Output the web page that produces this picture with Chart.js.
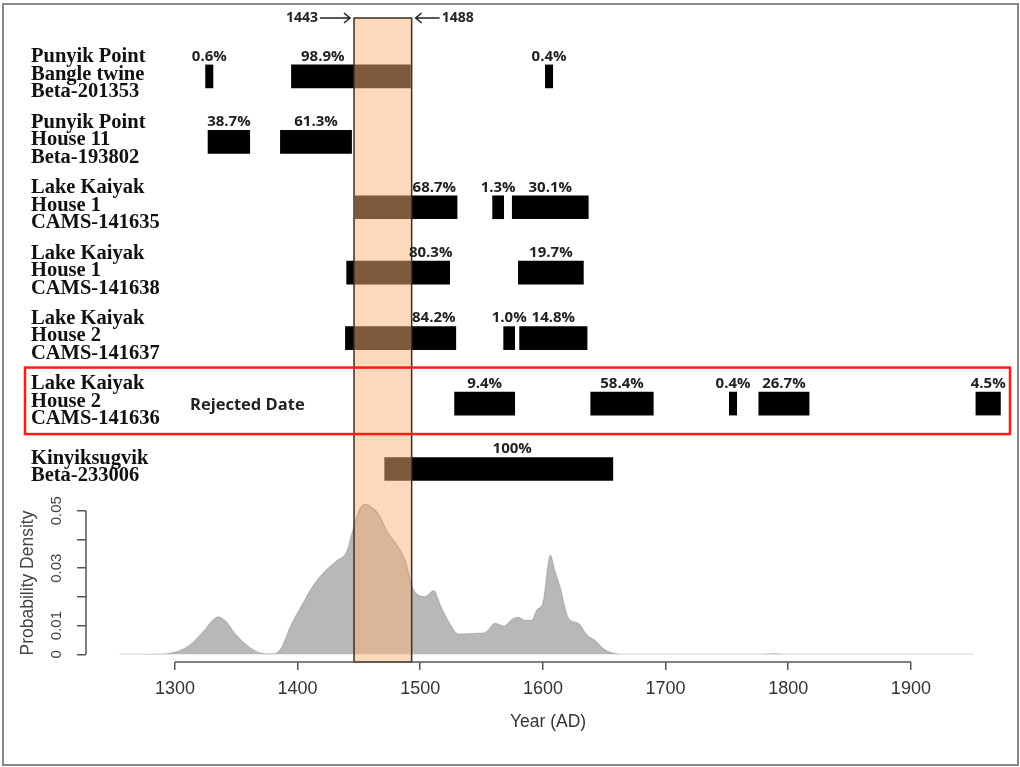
<!DOCTYPE html>
<html>
<head>
<meta charset="utf-8">
<script src="https://cdn.jsdelivr.net/npm/chart.js@4.4.1/dist/chart.umd.min.js"></script>
<style>
  html, body { margin: 0; padding: 0; background: #fff; }
</style>
</head>
<body>
<canvas id="chart" width="1020" height="767"></canvas>
<script>
// one row per dated sample
const sampleLabels = [
  ['Punyik Point', 'Bangle twine', 'Beta-201353'],
  ['Punyik Point', 'House 11', 'Beta-193802'],
  ['Lake Kaiyak', 'House 1', 'CAMS-141635'],
  ['Lake Kaiyak', 'House 1', 'CAMS-141638'],
  ['Lake Kaiyak', 'House 2', 'CAMS-141637'],
  ['Lake Kaiyak', 'House 2', 'CAMS-141636'],
  ['Kinyiksugvik', 'Beta-233006']
];
const rejectedRow = 5;
const rejectedText = 'Rejected Date';

// calibrated ranges (years AD) with their probability
const rangeRow  = [0, 0, 0, 1, 1, 2, 2, 2, 3, 3, 4, 4, 4, 5, 5, 5, 5, 5, 6];
const rangeFrom = [1325, 1395, 1602, 1327, 1386, 1447, 1559, 1575, 1440, 1580, 1439, 1568, 1581, 1528, 1639, 1752, 1776, 1953, 1471];
const rangeTo   = [1331, 1492, 1608, 1361, 1444, 1530, 1568, 1637, 1524, 1633, 1529, 1577, 1636, 1577, 1690, 1758, 1817, 1973, 1657];
const rangePct  = ['0.6%', '98.9%', '0.4%', '38.7%', '61.3%', '68.7%', '1.3%', '30.1%', '80.3%', '19.7%',
                   '84.2%', '1.0%', '14.8%', '9.4%', '58.4%', '0.4%', '26.7%', '4.5%', '100%'];

// summed probability density
const densityYear = [1255, 1288, 1301, 1312, 1323, 1331, 1335, 1341, 1350, 1361,
                     1372, 1379, 1386, 1394, 1402, 1413, 1422, 1432, 1440, 1445,
                     1451, 1455, 1459, 1466, 1473, 1481, 1488, 1493, 1498, 1504,
                     1511, 1517, 1524, 1531, 1546, 1554, 1561, 1568, 1576, 1580,
                     1585, 1591, 1595, 1600, 1606, 1610, 1614, 1621, 1629, 1636,
                     1642, 1651, 1659, 1668, 1775, 1788, 1800, 1951];
const densityValue = [0, 0.0001, 0.0009, 0.0032, 0.0079, 0.0119, 0.0131, 0.0117, 0.0067, 0.0024,
                      0.0003, 0.0002, 0.0017, 0.0096, 0.016, 0.0241, 0.0288, 0.0326, 0.0357, 0.0433,
                      0.0508, 0.0522, 0.0516, 0.0488, 0.0427, 0.038, 0.0323, 0.0241, 0.0207, 0.0201,
                      0.0222, 0.0166, 0.0108, 0.0071, 0.0073, 0.0079, 0.0108, 0.0099, 0.0125, 0.0129,
                      0.0119, 0.0119, 0.0154, 0.018, 0.0346, 0.0288, 0.0235, 0.0125, 0.0108, 0.0067,
                      0.005, 0.0015, 0.0003, 0, 0, 0.0003, 0, 0];

const yearTicks = [1300, 1400, 1500, 1600, 1700, 1800, 1900];
const densityTicks = [0, 0.01, 0.02, 0.03, 0.04, 0.05];
const densityTickLabels = ['0', '0.01', '', '0.03', '', '0.05'];

// highlighted span
const spanFrom = 1446;
const spanTo = 1493;
const spanLabels = ['1443', '1488'];

const sansBold = '"Open Sans", "Liberation Sans", sans-serif';

const overlay = {
  id: 'overlay',
  beforeDatasetDraw(chart, args) {
    if (args.meta.type !== 'line') return;
    const { ctx, chartArea, scales: { x } } = chart;
    const l = x.getPixelForValue(spanFrom), r = x.getPixelForValue(spanTo);
    ctx.save();
    ctx.fillStyle = 'rgba(250, 180, 120, 0.5)';
    ctx.fillRect(l, chartArea.top + 8, r - l, chartArea.bottom - chartArea.top - 8);
    ctx.restore();
  },
  afterDatasetsDraw(chart) {
    const { ctx, chartArea, scales: { x, yr, yd } } = chart;
    const l = x.getPixelForValue(spanFrom), r = x.getPixelForValue(spanTo);
    const top = chartArea.top + 8;
    ctx.save();

    // span outline
    ctx.strokeStyle = '#3b2f25';
    ctx.lineWidth = 1.5;
    ctx.strokeRect(l, top, r - l, chartArea.bottom - top);

    // R style axis lines, only across the tick range
    ctx.strokeStyle = '#555';
    ctx.lineWidth = 1.5;
    ctx.beginPath();
    ctx.moveTo(x.getPixelForValue(yearTicks[0]), chartArea.bottom);
    ctx.lineTo(x.getPixelForValue(yearTicks[yearTicks.length - 1]), chartArea.bottom);
    ctx.moveTo(chartArea.left, yd.getPixelForValue(densityTicks[0]));
    ctx.lineTo(chartArea.left, yd.getPixelForValue(densityTicks[densityTicks.length - 1]));
    ctx.stroke();

    // rotated density tick labels
    ctx.fillStyle = '#444';
    ctx.font = '15px "Liberation Sans", Arial, sans-serif';
    ctx.textAlign = 'center';
    ctx.textBaseline = 'middle';
    densityTicks.forEach((v, i) => {
      if (!densityTickLabels[i]) return;
      ctx.save();
      ctx.translate(chartArea.left - 29, yd.getPixelForValue(v));
      ctx.rotate(-Math.PI / 2);
      ctx.fillText(densityTickLabels[i], 0, 0);
      ctx.restore();
    });

    // sample names
    ctx.fillStyle = '#111';
    ctx.font = 'bold 20.5px "Liberation Serif", "Times New Roman", serif';
    ctx.textAlign = 'left';
    sampleLabels.forEach((lines, i) => {
      const mid = yr.getPixelForValue(i) - 2;
      lines.forEach((t, j) => {
        ctx.fillText(t, 31, mid + (j - (lines.length - 1) / 2) * 17.5);
      });
    });

    // probabilities above the bars
    ctx.fillStyle = '#222';
    ctx.font = 'bold 15px ' + sansBold;
    ctx.textAlign = 'center';
    rangePct.forEach((p, k) => {
      let a = rangeFrom[k], b = rangeTo[k];
      if (b > spanTo) a = Math.max(a, spanTo);
      else if (a < spanFrom) b = Math.min(b, spanFrom);
      const cx = (x.getPixelForValue(a) + x.getPixelForValue(b)) / 2;
      ctx.fillText(p, cx, yr.getPixelForValue(rangeRow[k]) - 20);
    });

    // rejected sample
    const ry = yr.getPixelForValue(rejectedRow);
    ctx.font = 'bold 16.5px ' + sansBold;
    ctx.textAlign = 'left';
    ctx.fillText(rejectedText, 190, ry + 2);
    ctx.strokeStyle = '#ff1a1a';
    ctx.lineWidth = 2.5;
    ctx.strokeRect(25, ry - 36, chartArea.right - 25, 66.5);

    // span end labels with arrows
    const ay = top;
    ctx.fillStyle = '#222';
    ctx.strokeStyle = '#222';
    ctx.lineWidth = 1.5;
    ctx.font = 'bold 14px ' + sansBold;
    ctx.textAlign = 'right';
    ctx.fillText(spanLabels[0], l - 36, ay);
    ctx.textAlign = 'left';
    ctx.fillText(spanLabels[1], r + 30, ay);
    ctx.beginPath();
    ctx.moveTo(l - 34, ay); ctx.lineTo(l - 4, ay);
    ctx.moveTo(l - 10, ay - 5); ctx.lineTo(l - 4, ay); ctx.lineTo(l - 10, ay + 5);
    ctx.moveTo(r + 28, ay); ctx.lineTo(r + 4, ay);
    ctx.moveTo(r + 10, ay - 5); ctx.lineTo(r + 4, ay); ctx.lineTo(r + 10, ay + 5);
    ctx.stroke();

    ctx.restore();
  },
  afterDraw(chart) {
    const { ctx } = chart;
    ctx.save();
    ctx.strokeStyle = '#888';
    ctx.lineWidth = 2;
    ctx.strokeRect(3, 4, 1015, 761);
    ctx.restore();
  }
};

const ctx = document.getElementById('chart').getContext('2d');
new Chart(ctx, {
  type: 'bar',
  data: {
    datasets: [
      {
        type: 'bar',
        indexAxis: 'y',
        xAxisID: 'x',
        yAxisID: 'yr',
        data: rangeRow.map((row, k) => ({ x: [rangeFrom[k], rangeTo[k]], y: row })),
        backgroundColor: '#000',
        barThickness: 23,
        order: 2
      },
      {
        type: 'line',
        xAxisID: 'x',
        yAxisID: 'yd',
        data: densityYear.map((yr, k) => ({ x: yr, y: densityValue[k] })),
        fill: 'origin',
        backgroundColor: 'rgba(0, 0, 0, 0.28)',
        borderColor: 'rgba(0, 0, 0, 0.12)',
        borderWidth: 1.5,
        pointRadius: 0,
        cubicInterpolationMode: 'monotone',
        order: 1
      }
    ]
  },
  options: {
    responsive: false,
    animation: false,
    devicePixelRatio: 1,
    layout: { padding: { top: 10, right: 10, bottom: 0, left: 0 } },
    plugins: { legend: { display: false }, tooltip: { enabled: false } },
    scales: {
      x: {
        type: 'linear',
        position: 'bottom',
        offset: false,
        min: 1227.5,
        max: 1980.8,
        afterBuildTicks: s => { s.ticks = yearTicks.map(v => ({ value: v })); },
        afterFit: s => { s.height = 105; },
        border: { display: false },
        grid: { offset: false, drawOnChartArea: false, drawTicks: true, tickLength: 8, color: '#555', lineWidth: 1.5 },
        ticks: {
          font: { family: 'Liberation Sans', size: 18 },
          color: '#333',
          padding: 8,
          maxRotation: 0,
          callback: v => String(v)
        },
        title: {
          display: true,
          text: 'Year (AD)',
          font: { family: 'Liberation Sans', size: 17.5 },
          color: '#333',
          padding: { top: 0, bottom: 34 }
        }
      },
      yr: {
        type: 'linear',
        position: 'left',
        stack: 'left',
        stackWeight: 494,
        weight: 2,
        offset: false,
        reverse: true,
        min: -1.015,
        max: 6.535,
        display: false
      },
      yd: {
        type: 'linear',
        position: 'left',
        stack: 'left',
        stackWeight: 158,
        weight: 1,
        offset: false,
        min: -0.00267,
        max: 0.05232,
        afterBuildTicks: s => { s.ticks = densityTicks.map(v => ({ value: v })); },
        afterFit: s => { s.width = 86; },
        border: { display: false },
        grid: { offset: false, drawOnChartArea: false, drawTicks: true, tickLength: 9, color: '#555', lineWidth: 1.5 },
        ticks: { display: false },
        title: {
          display: true,
          text: 'Probability Density',
          font: { family: 'Liberation Sans', size: 17.5 },
          color: '#444',
          padding: { top: 18, bottom: 0 }
        }
      }
    }
  },
  plugins: [overlay]
});
</script>
</body>
</html>
